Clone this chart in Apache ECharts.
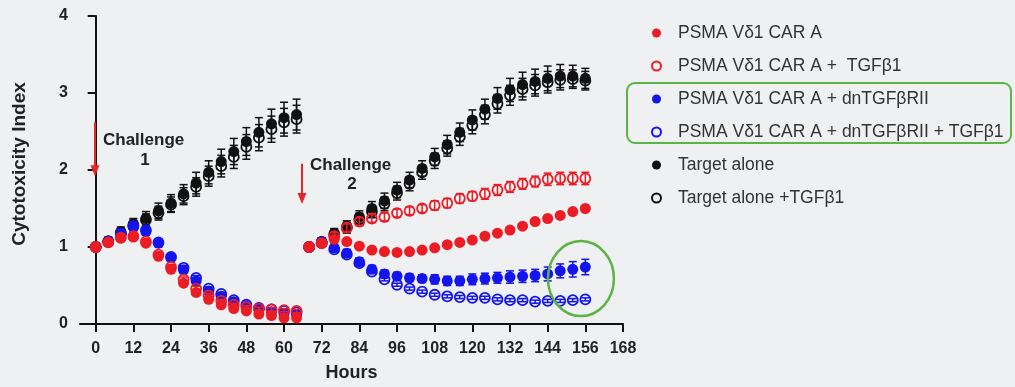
<!DOCTYPE html>
<html>
<head>
<meta charset="utf-8">
<script src="https://cdn.jsdelivr.net/npm/echarts@6/dist/echarts.min.js"></script>
<style>
html,body{margin:0;padding:0;background:#eef0f2;}
#c{width:1015px;height:387px;}
</style>
</head>
<body>
<div id="c"></div>
<script>
// ---------- DATA ----------
const hours = [0,4,8,12,16,20,24,28,32,36,40,44,48,52,56,60,64,
               68,72,76,80,84,88,92,96,100,104,108,112,116,120,124,128,132,136,140,144,148,152,156];
const xTicks = [0,12,24,36,48,60,72,84,96,108,120,132,144,156,168];

const seriesNames = [
  'PSMA Vδ1 CAR A',
  'PSMA Vδ1 CAR A +  TGFβ1',
  'PSMA Vδ1 CAR A + dnTGFβRII',
  'PSMA Vδ1 CAR A + dnTGFβRII + TGFβ1',
  'Target alone',
  'Target alone +TGFβ1'
];

const carA = [1.00,1.06,1.12,1.13,1.05,0.88,0.71,0.53,0.41,0.32,0.25,0.20,0.17,0.13,0.11,0.08,0.08,
              1.00,1.05,1.10,1.07,1.01,0.96,0.94,0.93,0.94,0.96,0.99,1.03,1.06,1.09,1.14,1.18,1.22,1.27,1.33,1.37,1.41,1.46,1.50];
const carAErr = [0.03,0.03,0.03,0.03,0.03,0.03,0.03,0.03,0.03,0.03,0.03,0.02,0.02,0.02,0.02,0.02,0.02,
                 0.03,0.03,0.03,0.03,0.03,0.02,0.02,0.02,0.02,0.02,0.02,0.02,0.02,0.02,0.02,0.02,0.02,0.02,0.02,0.02,0.02,0.02,0.02];

const carATgf = [1.00,1.06,1.12,1.14,1.07,0.90,0.74,0.58,0.46,0.37,0.30,0.25,0.22,0.20,0.19,0.18,0.17,
                 1.00,1.05,1.14,1.25,1.33,1.37,1.39,1.44,1.47,1.50,1.54,1.57,1.63,1.66,1.69,1.74,1.78,1.82,1.85,1.88,1.89,1.89,1.89];
const carATgfErr = [0.03,0.03,0.03,0.03,0.03,0.03,0.03,0.03,0.03,0.03,0.02,0.02,0.02,0.02,0.02,0.02,0.02,
                    0.03,0.04,0.05,0.05,0.05,0.05,0.05,0.05,0.05,0.05,0.06,0.06,0.06,0.06,0.07,0.07,0.07,0.07,0.07,0.08,0.08,0.08,0.08];

const dn = [1.00,1.07,1.18,1.26,1.20,1.05,0.86,0.70,0.56,0.43,0.36,0.29,0.23,0.19,0.16,0.13,0.12,
            1.00,1.07,0.99,0.92,0.81,0.71,0.65,0.62,0.60,0.59,0.58,0.56,0.56,0.58,0.59,0.60,0.61,0.62,0.63,0.65,0.69,0.71,0.74];
const dnErr = [0.03,0.04,0.05,0.05,0.05,0.05,0.04,0.04,0.04,0.03,0.03,0.03,0.03,0.03,0.03,0.03,0.03,
               0.04,0.05,0.05,0.05,0.05,0.05,0.05,0.05,0.05,0.05,0.06,0.06,0.06,0.07,0.07,0.07,0.08,0.08,0.08,0.09,0.09,0.10,0.10];

const dnTgf = [1.00,1.07,1.17,1.27,1.22,1.06,0.87,0.73,0.60,0.46,0.39,0.31,0.25,0.21,0.19,0.17,0.15,
               1.00,1.05,0.97,0.90,0.79,0.68,0.58,0.51,0.46,0.42,0.38,0.36,0.35,0.34,0.34,0.32,0.31,0.31,0.29,0.30,0.30,0.31,0.32];
const dnTgfErr = [0.03,0.03,0.03,0.03,0.03,0.03,0.03,0.03,0.03,0.02,0.02,0.02,0.02,0.02,0.02,0.02,0.02,
                  0.03,0.03,0.03,0.03,0.03,0.02,0.02,0.02,0.02,0.02,0.02,0.02,0.02,0.02,0.02,0.02,0.02,0.02,0.02,0.02,0.02,0.02,0.02];

const target = [1.00,1.08,1.20,1.30,1.37,1.47,1.57,1.69,1.83,1.97,2.11,2.24,2.37,2.49,2.60,2.68,2.72,
                1.00,1.07,1.18,1.27,1.39,1.50,1.60,1.74,1.87,2.02,2.17,2.33,2.49,2.65,2.79,2.93,3.04,3.11,3.15,3.19,3.22,3.22,3.19];
const targetErr = [0.03,0.05,0.06,0.07,0.09,0.10,0.11,0.12,0.14,0.15,0.16,0.17,0.18,0.19,0.19,0.20,0.20,
                   0.03,0.05,0.06,0.07,0.08,0.09,0.10,0.10,0.10,0.10,0.11,0.12,0.12,0.13,0.13,0.14,0.15,0.16,0.16,0.16,0.15,0.14,0.13];

const targetTgf = [1.00,1.07,1.18,1.28,1.35,1.44,1.55,1.66,1.78,1.92,2.05,2.17,2.30,2.42,2.53,2.62,2.66,
                   1.00,1.06,1.16,1.25,1.36,1.46,1.56,1.70,1.82,1.97,2.12,2.28,2.43,2.58,2.72,2.86,2.97,3.05,3.10,3.14,3.17,3.18,3.16];
const targetTgfErr = [0.03,0.05,0.06,0.07,0.08,0.09,0.10,0.11,0.12,0.13,0.14,0.15,0.16,0.17,0.17,0.18,0.18,
                      0.03,0.05,0.06,0.07,0.08,0.08,0.09,0.09,0.09,0.09,0.10,0.10,0.11,0.11,0.12,0.12,0.13,0.14,0.14,0.14,0.13,0.12,0.12];

// annotation anchors (data units)
const arrows = [
  {hour: 0,  top: 2.62, bottom: 1.92, textY: 2.38, numY: 2.12, num: '1'},
  {hour: 66, top: 2.08, bottom: 1.56, textY: 2.06, numY: 1.81, num: '2'}
];
const highlight = {hour: 154.6, value: 0.59};

// ---------- STYLE ----------
const RED = '#ec1c24', BLUE = '#1414ec', BLACK = '#111111', GREEN = '#5cb346';
const FONT = 'Liberation Sans, Arial, sans-serif';

const defs = [
  // draw order: black bottom, blue, red top
  {name: seriesNames[5], vals: targetTgf, err: targetTgfErr, color: BLACK, open: true},
  {name: seriesNames[4], vals: target,    err: targetErr,    color: BLACK, open: false},
  {name: seriesNames[3], vals: dnTgf,     err: dnTgfErr,     color: BLUE,  open: true},
  {name: seriesNames[2], vals: dn,        err: dnErr,        color: BLUE,  open: false},
  {name: seriesNames[1], vals: carATgf,   err: carATgfErr,   color: RED,   open: true},
  {name: seriesNames[0], vals: carA,      err: carAErr,      color: RED,   open: false}
];

const series = [];
defs.forEach((d, i) => {
  const data = hours.map((h, k) => [h, d.vals[k], d.err[k]]);
  series.push({
    type: 'custom',
    name: d.name + ' err',
    data: data,
    z: 2 + i * 2,
    silent: true,
    encode: {x: 0, y: 1},
    renderItem: function (params, api) {
      const x = api.value(0), y = api.value(1), e = api.value(2);
      const t = api.coord([x, y + e]);
      const b = api.coord([x, y - e]);
      const hw = 4;
      const st = {stroke: d.color, lineWidth: 1.5};
      return {type: 'group', children: [
        {type: 'line', shape: {x1: t[0], y1: t[1], x2: b[0], y2: b[1]}, style: st},
        {type: 'line', shape: {x1: t[0] - hw, y1: t[1], x2: t[0] + hw, y2: t[1]}, style: st},
        {type: 'line', shape: {x1: b[0] - hw, y1: b[1], x2: b[0] + hw, y2: b[1]}, style: st}
      ]};
    }
  });
  series.push({
    type: 'scatter',
    name: d.name,
    data: data.map(p => [p[0], p[1]]),
    z: 3 + i * 2,
    symbol: 'circle',
    symbolSize: d.open ? 10 : 11,
    itemStyle: d.open
      ? {color: 'rgba(0,0,0,0)', borderColor: d.color, borderWidth: 1.8, opacity: 1}
      : {color: d.color, borderWidth: 0, opacity: 1},
    emphasis: {disabled: true}
  });
});

const chart = echarts.init(document.getElementById('c'), null, {renderer: 'canvas'});

const option = {
  backgroundColor: '#eef0f2',
  animation: false,
  grid: {left: 80, right: 392, top: 16, bottom: 61},
  xAxis: {
    type: 'value', min: -5, max: 168,
    name: 'Hours', nameLocation: 'middle', nameGap: 40,
    nameTextStyle: {fontFamily: FONT, fontWeight: 'bold', fontSize: 18, color: '#222'},
    axisLine: {show: true, onZero: false, lineStyle: {color: '#111', width: 2}},
    axisTick: {show: true, customValues: xTicks, length: 8, lineStyle: {color: '#111', width: 2}},
    axisLabel: {customValues: xTicks, margin: 17, fontFamily: FONT, fontWeight: 'bold', fontSize: 16, color: '#222'},
    splitLine: {show: false}
  },
  yAxis: {
    type: 'value', min: 0, max: 4, interval: 1,
    name: 'Cytotoxicity Index', nameLocation: 'middle', nameGap: 51, nameRotate: 90,
    nameTextStyle: {fontFamily: FONT, fontWeight: 'bold', fontSize: 19, color: '#222', padding: [0, 0, 0, 12]},
    axisLine: {show: true, lineStyle: {color: '#111', width: 2}},
    axisTick: {show: true, length: 8, lineStyle: {color: '#111', width: 2}},
    axisLabel: {margin: 12, fontFamily: FONT, fontWeight: 'bold', fontSize: 16, color: '#222'},
    splitLine: {show: false}
  },
  legend: {
    orient: 'vertical', left: 646, top: 19,
    itemWidth: 9, itemHeight: 9, itemGap: 15,
    selectedMode: false,
    data: seriesNames.map(n => ({name: n, icon: 'circle'})),
    textStyle: {fontFamily: FONT, fontSize: 17.5, color: '#333', padding: [0, 0, 0, 12], lineHeight: 17}
  },
  series: series
};
chart.setOption(option);

// ---------- annotations positioned through the axes ----------
const toPx = (h, v) => chart.convertToPixel({xAxisIndex: 0, yAxisIndex: 0}, [h, v]);
const graphics = [];
arrows.forEach(a => {
  const t = toPx(a.hour, a.top), b = toPx(a.hour, a.bottom);
  const x = Math.round(t[0]) - 1;
  graphics.push({type: 'line', shape: {x1: x, y1: t[1], x2: x, y2: b[1] - 8}, style: {stroke: '#e3262b', lineWidth: 2}, z: 50});
  graphics.push({type: 'polygon', shape: {points: [[x - 4.5, b[1] - 11], [x + 4.5, b[1] - 11], [x, b[1]]]}, style: {fill: '#e3262b'}, z: 50});
  const ty = toPx(a.hour, a.textY)[1], ny = toPx(a.hour, a.numY)[1];
  graphics.push({type: 'text', x: x + 8, y: ty, style: {text: 'Challenge', font: 'bold 17px ' + FONT, fill: '#222', verticalAlign: 'middle', align: 'left'}, z: 50});
  graphics.push({type: 'text', x: x + 50, y: ny, style: {text: a.num, font: 'bold 17px ' + FONT, fill: '#222', verticalAlign: 'middle', align: 'center'}, z: 50});
});
const hc = toPx(highlight.hour, highlight.value);
graphics.push({type: 'ellipse', shape: {cx: hc[0], cy: hc[1], rx: 33, ry: 37.5}, style: {fill: 'none', stroke: GREEN, lineWidth: 2.5}, z: 60});
graphics.push({type: 'rect', shape: {x: 627, y: 83, width: 384, height: 60, r: 8}, style: {fill: 'none', stroke: GREEN, lineWidth: 2}, z: 60});
chart.setOption({graphic: graphics});
</script>
</body>
</html>
